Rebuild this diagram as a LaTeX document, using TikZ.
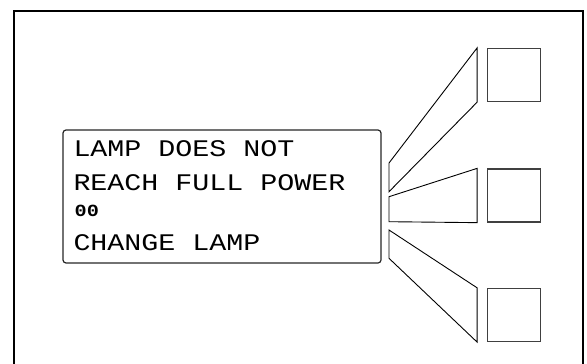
\documentclass[tikz,border=0pt]{standalone}
\usepackage{fontspec}
\setmonofont[FakeStretch=1.19]{Liberation Mono}
\usetikzlibrary{positioning}

\begin{document}
\begin{tikzpicture}[x=1pt, y=-1pt,
        panel/.style={draw=black!85, rounded corners=3pt, line width=1.2pt, minimum width=318pt, minimum height=133pt, inner sep=0pt},
        msg/.style={anchor=base west, inner sep=0pt, font=\ttfamily\fontsize{23.8}{24}\selectfont},
        code/.style={anchor=base west, inner sep=0pt, font=\ttfamily\bfseries\fontsize{17}{17}\selectfont},
        button/.style={draw=black!75, line width=1.3pt, minimum size=53pt, inner sep=0pt},
        guide/.style={draw, line width=0.9pt, line join=miter}
    ]
        \useasboundingbox (0,0) rectangle (587,364);
        \clip (0,0) rectangle (587,364);

        % Housing
        \draw[line width=2.5pt] (14,370) |- (583,11) -- (583,370);

        % Nodes
        \node [panel] (display) at (222,196.5) {};
        \node [msg] (msgA) at (73.3,156.7) {LAMP DOES NOT};
        \node [msg] (msgB) at (73.3,190.7) {REACH FULL POWER};
        \node [code] (msgC) at (74.5,216.7) {00};
        \node [msg] (msgD) at (73.3,250.7) {CHANGE LAMP};

        \node [button] (keyA) at (514.3,75) {};
        \node [button] (keyB) at (514.3,195.5) {};
        \node [button] (keyC) at (514.3,315) {};

        % Light guides from the display to the keys
        \draw [guide] (389,163) -- ([xshift=-10pt]keyA.north west) -- ([xshift=-10pt]keyA.south west) -- (389,191.7) -- cycle;
        \draw [guide] (389,196.7) -- ([xshift=-10pt]keyB.north west) -- ([xshift=-10pt]keyB.south west) -- (389,221.7) -- cycle;
        \draw [guide] (389,230) -- ([xshift=-10pt]keyC.north west) -- ([xshift=-10pt]keyC.south west) -- (389,258.3) -- cycle;

    \end{tikzpicture}
\end{document}
